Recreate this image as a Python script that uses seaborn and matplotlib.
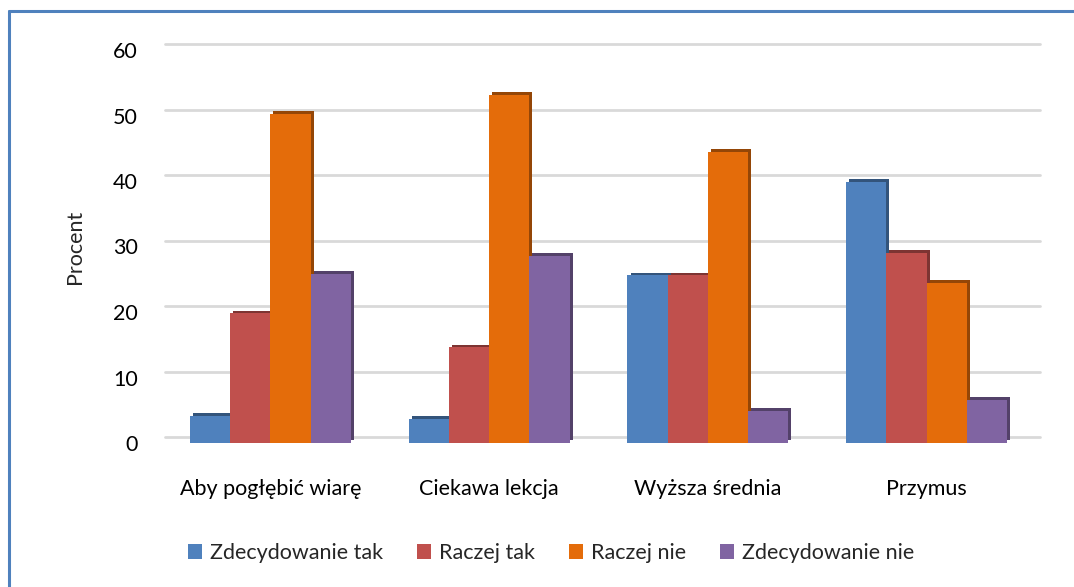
import matplotlib
matplotlib.use("Agg")
import matplotlib.pyplot as plt
import matplotlib.patheffects as pe
from matplotlib.colors import to_rgb
from matplotlib.lines import Line2D
import seaborn as sns
import pandas as pd

categories = ["Aby pogłębić wiarę", "Ciekawa lekcja", "Wyższa średnia", "Przymus"]
series = ["Zdecydowanie tak", "Raczej tak", "Raczej nie", "Zdecydowanie nie"]
zdecydowanie_tak = [4.1, 3.7, 25.6, 39.9]
raczej_tak = [19.8, 14.6, 25.6, 29.0]
raczej_nie = [50.2, 53.1, 44.4, 24.5]
zdecydowanie_nie = [25.8, 28.6, 4.9, 6.6]
y_ticks = [0, 10, 20, 30, 40, 50, 60]

colors = ["#4F81BD", "#C0504D", "#E46C0A", "#8064A2"]

values = [zdecydowanie_tak, raczej_tak, raczej_nie, zdecydowanie_nie]
rows = []
for s, vals in zip(series, values):
    for c, v in zip(categories, vals):
        rows.append({"Kategoria": c, "Seria": s, "Procent": v})
df = pd.DataFrame(rows)

sns.set_style("white")
plt.rcParams["font.family"] = ["Lato", "DejaVu Sans"]

FS = 15.5
W, H = 1074, 587
fig = plt.figure(figsize=(W / 100, H / 100), dpi=100)
ax = fig.add_axes([161 / W, 1 - 443 / H, (1036 - 161) / W, (443 - 50) / H])

sns.barplot(data=df, x="Kategoria", y="Procent", hue="Seria",
            hue_order=series, order=categories, palette=colors,
            width=0.735, saturation=1, errorbar=None, ax=ax, legend=False)

# pseudo-3D depth on bars
for container, col in zip(ax.containers, colors):
    dark = tuple(c * 0.65 for c in to_rgb(col))
    for bar in container:
        bar.set_linewidth(0)
        bar.set_path_effects([
            pe.SimplePatchShadow(offset=(2.2, 2.0), shadow_rgbFace=dark, alpha=1.0),
            pe.Normal(),
        ])

ax.set_ylim(0, 60)
ax.set_xlim(-0.5, 3.5)
ax.set_yticks(y_ticks)
ax.set_yticklabels([str(t) for t in y_ticks])
ax.yaxis.grid(True, color="#D9D9D9", linewidth=2.0)
ax.set_axisbelow(True)
for gl in ax.get_ygridlines():
    gl.set_clip_on(False)
    gl.set_path_effects([pe.Stroke(offset=(3.0, 4.3))])
for sp in ax.spines.values():
    sp.set_visible(False)
ax.tick_params(axis="y", length=0, pad=16.5, labelsize=FS, colors="#000000")
ax.tick_params(axis="x", length=0, pad=26, labelsize=FS, colors="#000000")
ax.set_xlabel("")
ax.set_ylabel("Procent", fontsize=FS, labelpad=20)

handles = [plt.Rectangle((0, 0), 1, 1, facecolor=c, edgecolor="none") for c in colors]
fig.legend(handles, series, loc="center", bbox_to_anchor=(551 / W, 1 - 553 / H),
           ncol=4, frameon=False, fontsize=FS, handlelength=0.65, handleheight=0.65,
           handletextpad=0.35, columnspacing=1.6)

# blue border
fig.add_artist(Line2D([9 / W, 9 / W], [0, 1 - 11 / H], transform=fig.transFigure,
                      color="#4F81BD", linewidth=2.2))
fig.add_artist(Line2D([9 / W, 1], [1 - 11 / H, 1 - 11 / H], transform=fig.transFigure,
                      color="#4F81BD", linewidth=2.2))

fig.savefig("out.png", dpi=100, facecolor="white")
